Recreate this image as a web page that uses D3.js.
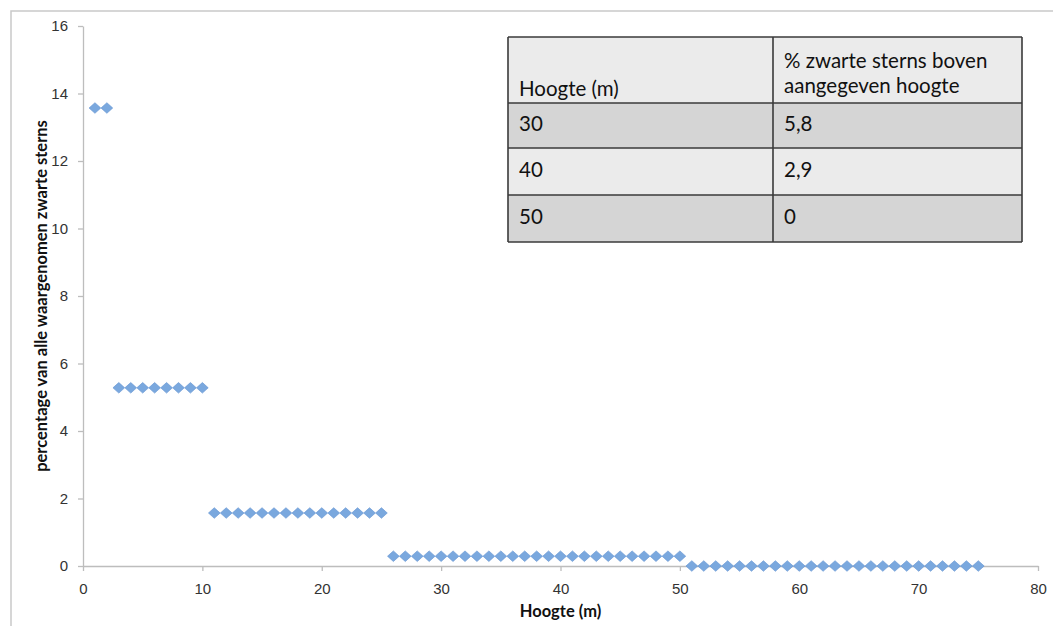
<!DOCTYPE html>
<html>
<head>
<meta charset="utf-8">
<script src="https://cdn.jsdelivr.net/npm/d3@7/dist/d3.min.js"></script>
<style>
  body { margin: 0; background: #fff; }
  svg { display: block; font-family: Lato, "Open Sans", sans-serif; }
</style>
</head>
<body>
<svg id="chart"></svg>
<script>
// heights (m) and share of terns seen at that height (%)
const heights = d3.range(1, 76);
const groupEnds = [2, 10, 25, 50, 75];
const groupValues = [13.57, 5.28, 1.57, 0.29, 0.0];
const percentages = heights.map(h => groupValues[groupEnds.findIndex(e => h <= e)]);

const xTicks = [0, 10, 20, 30, 40, 50, 60, 70, 80];
const yTicks = [0, 2, 4, 6, 8, 10, 12, 14, 16];

const tableHeader = ['Hoogte (m)', '% zwarte sterns boven\naangegeven hoogte'];
const tableHeights = ['30', '40', '50'];
const tablePercent = ['5,8', '2,9', '0'];

const W = 1053, H = 626;
const margin = { top: 26, right: 15, bottom: 60, left: 83 };

const svg = d3.select('#chart').attr('width', W).attr('height', H);

// outer chart frame (only top and left edges visible)
svg.append('path')
  .attr('d', `M11,${H} V11 H${W}`)
  .attr('fill', 'none')
  .attr('stroke', '#c9c9c9')
  .attr('stroke-width', 1.5);

const x = d3.scaleLinear().domain([0, 80]).range([margin.left, W - margin.right]);
const y = d3.scaleLinear().domain([0, 16]).range([H - margin.bottom, margin.top]);

const xAxis = svg.append('g')
  .attr('transform', `translate(0,${y(0)})`)
  .call(d3.axisBottom(x).tickValues(xTicks).tickSize(5).tickPadding(12).tickSizeOuter(0));

const yAxis = svg.append('g')
  .attr('transform', `translate(${x(0)},0)`)
  .call(d3.axisLeft(y).tickValues(yTicks).tickSize(5).tickPadding(10).tickSizeOuter(0));

[xAxis, yAxis].forEach(a => {
  a.select('.domain').attr('stroke', '#bdbdbd').attr('stroke-width', 1.3);
  a.selectAll('.tick line').attr('stroke', '#bdbdbd').attr('stroke-width', 1.3);
  a.selectAll('.tick text').attr('fill', '#333').attr('font-size', 15);
});

svg.append('text')
  .attr('x', (x(0) + x(80)) / 2)
  .attr('y', 617)
  .attr('text-anchor', 'middle')
  .attr('font-size', 16.5)
  .attr('font-weight', 'bold')
  .attr('fill', '#111')
  .text('Hoogte (m)');

svg.append('text')
  .attr('transform', `translate(47,${(y(0) + y(16)) / 2}) rotate(-90)`)
  .attr('text-anchor', 'middle')
  .attr('font-size', 16.5)
  .attr('font-weight', 'bold')
  .attr('fill', '#111')
  .text('percentage van alle waargenomen zwarte sterns');

// diamond markers
const diamond = d3.symbol().type(d3.symbolDiamond2 || d3.symbolDiamond).size(72);
svg.append('g')
  .selectAll('path')
  .data(heights)
  .enter()
  .append('path')
  .attr('d', diamond)
  .attr('transform', (d, i) => `translate(${x(d)},${y(percentages[i])}) scale(1.1,1)`)
  .attr('fill', '#7aa8de')
  .attr('stroke', '#6495d3')
  .attr('stroke-width', 0.6);

// inset table
const tbl = { left: 508, top: 37, col: 773, right: 1022 };
const rowTops = [37, 103, 148, 195, 242];
const rowFills = ['#ebebeb', '#d5d5d5', '#ebebeb', '#d5d5d5'];
const t = svg.append('g');

rowFills.forEach((f, i) => {
  t.append('rect')
    .attr('x', tbl.left).attr('y', rowTops[i])
    .attr('width', tbl.right - tbl.left).attr('height', rowTops[i + 1] - rowTops[i])
    .attr('fill', f);
});
rowTops.forEach(r => {
  t.append('line').attr('x1', tbl.left).attr('x2', tbl.right).attr('y1', r).attr('y2', r)
    .attr('stroke', '#3a3a3a').attr('stroke-width', 1.6);
});
[tbl.left, tbl.col, tbl.right].forEach(c => {
  t.append('line').attr('x1', c).attr('x2', c).attr('y1', rowTops[0]).attr('y2', rowTops[4])
    .attr('stroke', '#3a3a3a').attr('stroke-width', 1.6);
});

const cellText = (tx, ty, s) => t.append('text')
  .attr('x', tx).attr('y', ty)
  .attr('font-size', 20.5).attr('fill', '#111')
  .text(s);

cellText(tbl.left + 11, 96, tableHeader[0]);
tableHeader[1].split('\n').forEach((line, i) => cellText(tbl.col + 11, 68 + i * 24.5, line));
tableHeights.forEach((h, i) => {
  const mid = (rowTops[i + 1] + rowTops[i + 2]) / 2 + 5;
  cellText(tbl.left + 11, mid, h);
  cellText(tbl.col + 11, mid, tablePercent[i]);
});
</script>
</body>
</html>
